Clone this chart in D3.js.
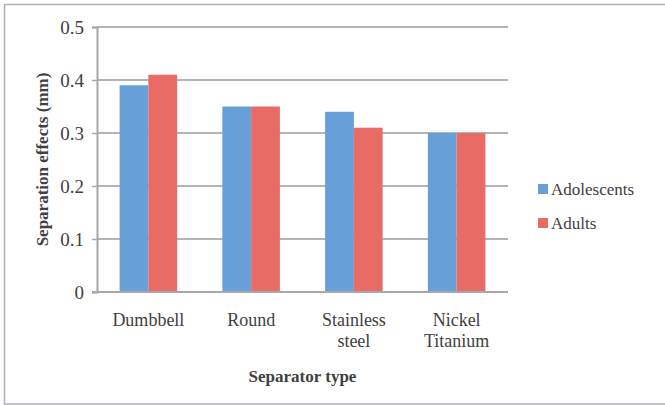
<!DOCTYPE html>
<html>
<head>
<meta charset="utf-8">
<script src="https://cdn.jsdelivr.net/npm/d3@7"></script>
<style>
	body { margin: 0; background: #fff; }
</style>
</head>
<body>
<svg id="chart" width="665" height="405"></svg>
<script>
const categories = [['Dumbbell'], ['Round'], ['Stainless', 'steel'], ['Nickel', 'Titanium']]
const seriesNames = ['Adolescents', 'Adults']
const adolescents = [0.39, 0.35, 0.34, 0.30]
const adults = [0.41, 0.35, 0.31, 0.30]
const yTicks = [0, 0.1, 0.2, 0.3, 0.4, 0.5]
const colors = ['#679fd9', '#e86b65']

const FONT = '"Liberation Serif", "Times New Roman", Times, "DejaVu Serif", serif'
const svg = d3.select('#chart')
const plotLeft = 97, plotRight = 508, plotTop = 27, plotBottom = 292

// outer frame
svg.append('rect')
	.attr('x', 4.5).attr('y', 4.5)
	.attr('width', 665).attr('height', 399.5)
	.attr('fill', 'none')
	.attr('stroke', '#b0b0b5')
	.attr('stroke-width', 1.5)

const keys = categories.map(c => c.join(' '))
const x = d3.scaleBand().domain(keys).range([plotLeft, plotRight]).paddingInner(0.44).paddingOuter(0.22)
const xs = d3.scaleBand().domain(seriesNames).range([0, x.bandwidth()])
const y = d3.scaleLinear().domain([0, 0.5]).range([plotBottom, plotTop])

// gridlines
svg.append('g')
	.selectAll('line')
	.data(yTicks.slice(1))
	.enter()
	.append('line')
	.attr('x1', plotLeft).attr('x2', plotRight)
	.attr('y1', d => y(d)).attr('y2', d => y(d))
	.attr('stroke', '#b4b4b8')
	.attr('stroke-width', 2)

// bars
const data = keys.map((k, i) => ({ key: k, vals: [adolescents[i], adults[i]] }))
svg.append('g')
	.selectAll('g')
	.data(data)
	.enter()
	.append('g')
	.attr('transform', d => `translate(${x(d.key)},0)`)
	.selectAll('rect')
	.data(d => d.vals.map((v, j) => ({ name: seriesNames[j], v: v, c: colors[j] })))
	.enter()
	.append('rect')
	.attr('x', d => xs(d.name))
	.attr('width', xs.bandwidth())
	.attr('y', d => y(d.v))
	.attr('height', d => y(0) - y(d.v))
	.attr('fill', d => d.c)

// y axis
const yAxis = svg.append('g')
	.attr('transform', `translate(${plotLeft},0)`)
	.call(d3.axisLeft(y).tickValues(yTicks).tickFormat(d => d === 0 ? '0' : d3.format('.1f')(d)).tickSize(5).tickPadding(8))
yAxis.attr('font-family', null)
yAxis.select('.domain').attr('stroke', '#a8a8ac').attr('stroke-width', 2)
yAxis.selectAll('.tick line').attr('stroke', '#a8a8ac').attr('stroke-width', 1.5)
yAxis.selectAll('.tick text').attr('font-size', 19).attr('fill', '#404040')
	.style('font-family', FONT)

// x baseline
svg.append('line')
	.attr('x1', plotLeft - 5).attr('x2', plotRight)
	.attr('y1', y(0)).attr('y2', y(0))
	.attr('stroke', '#a8a8ac').attr('stroke-width', 2)

// category labels
const lbl = svg.append('g')
	.selectAll('text')
	.data(categories)
	.enter()
	.append('text')
	.style('font-family', FONT)
	.attr('fill', '#404040')
	.attr('text-anchor', 'middle')
	.attr('font-size', 18)
	.attr('transform', (d, i) => `translate(${x(keys[i]) + x.bandwidth() / 2},326)`)
lbl.selectAll('tspan')
	.data(d => d)
	.enter()
	.append('tspan')
	.attr('x', 0)
	.attr('y', (d, i) => i * 21)
	.text(d => d)

// axis titles
svg.append('text')
	.style('font-family', FONT)
	.attr('fill', '#404040')
	.attr('x', (plotLeft + plotRight) / 2).attr('y', 382)
	.attr('text-anchor', 'middle')
	.attr('font-size', 17).attr('font-weight', 'bold')
	.text('Separator type')
svg.append('text')
	.style('font-family', FONT)
	.attr('fill', '#404040')
	.attr('transform', `translate(48,${(plotTop + plotBottom) / 2}) rotate(-90)`)
	.attr('text-anchor', 'middle')
	.attr('font-size', 17).attr('font-weight', 'bold')
	.text('Separation effects (mm)')

// legend
const leg = svg.append('g')
	.selectAll('g')
	.data(seriesNames)
	.enter()
	.append('g')
	.attr('transform', (d, i) => `translate(538,${190 + i * 34})`)
leg.append('rect')
	.attr('x', 0).attr('y', -6)
	.attr('width', 10).attr('height', 10)
	.attr('fill', (d, i) => colors[i])
leg.append('text')
	.style('font-family', FONT)
	.attr('fill', '#404040')
	.attr('x', 13).attr('y', 5)
	.attr('font-size', 17)
	.text(d => d)
</script>
</body>
</html>
